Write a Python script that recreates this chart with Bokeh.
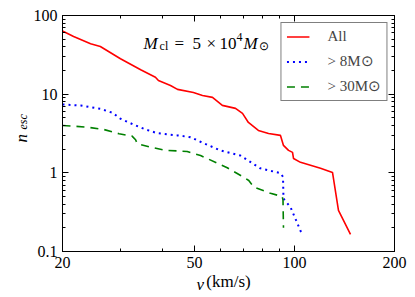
from bokeh.plotting import figure
from bokeh.models import Label, LogAxis, FixedTicker, Legend, LegendItem, CustomJSTickFormatter, Title
from bokeh.embed import file_html
from bokeh.resources import INLINE

# ---- data ----
v_all = [20, 21.6, 24.3, 26.0, 29.9, 34.4, 38.1, 38.9, 42.3, 44.4, 49.6, 52.8, 56.6, 60.6,
         66.4, 69.7, 72.6, 77.8, 83.5, 90.7, 92.6, 95.9, 98.6, 99.3, 104.2, 119.7, 130.1,
         135.6, 147.4]
n_all = [63.5, 54, 43.7, 40.4, 28.2, 20.4, 16.4, 14.9, 12.9, 11.5, 10.5, 9.6, 9.1, 7.2,
         6.6, 5.7, 4.37, 3.46, 3.17, 2.99, 2.23, 1.93, 1.82, 1.52, 1.36, 1.14, 1.01,
         0.333, 0.165]

v_8 = [20, 22.7, 24.3, 26.0, 28.3, 29.9, 33.2, 35.6, 38.6, 44.4, 48.6, 53.2, 59.8, 68.7,
       78.9, 90.7, 92.3, 92.6, 97.2, 105]
n_8 = [7.4, 7.18, 6.84, 6.52, 5.8, 4.87, 4.0, 3.56, 3.19, 2.99, 2.84, 2.38, 1.93, 1.66,
       1.14, 0.99, 0.89, 0.47, 0.367, 0.17]

v_30 = [20, 23.7, 26.6, 29.6, 32.4, 33.2, 33.6, 36.8, 41.0, 47.5, 52.1, 58.5, 62.7, 70.3,
        72.8, 75.4, 84.6, 91.8, 92.3, 92.6]
n_30 = [4.0, 3.81, 3.56, 3.14, 2.93, 2.63, 2.34, 2.12, 1.93, 1.87, 1.66, 1.33, 1.16, 0.88,
        0.80, 0.66, 0.55, 0.50, 0.45, 0.20]

x_ticks = [20, 50, 100, 200]
x_minor = [30, 40, 60, 70, 80, 90]
y_ticks = [0.1, 1, 10, 100]
y_minor = [0.2, 0.3, 0.4, 0.5, 0.6, 0.7, 0.8, 0.9, 2, 3, 4, 5, 6, 7, 8, 9,
           20, 30, 40, 50, 60, 70, 80, 90]

legend_labels = ["All", "> 8M⊙", "> 30M⊙"]

FONT = "Liberation Serif"

p = figure(width=410, height=295, frame_width=332, frame_height=236,
           x_axis_type="log", y_axis_type="log",
           x_range=(20, 200), y_range=(0.1, 100),
           output_backend="svg", toolbar_location=None,
           min_border_left=62, min_border_right=14, min_border_top=15, min_border_bottom=44)
p.xgrid.visible = False
p.ygrid.visible = False
p.outline_line_color = "black"
p.outline_line_width = 1
p.background_fill_color = "white"
p.border_fill_color = "white"

xt = FixedTicker(ticks=x_ticks, minor_ticks=x_minor)
yt = FixedTicker(ticks=y_ticks, minor_ticks=y_minor)
fmt = CustomJSTickFormatter(code="return tick.toString();")
blank = CustomJSTickFormatter(code="return '';")


def style(ax, labels=True):
    ax.axis_line_color = "black"
    ax.axis_line_width = 1
    ax.major_tick_in = 6
    ax.major_tick_out = 0
    ax.minor_tick_in = 3
    ax.minor_tick_out = 0
    ax.major_tick_line_color = "black"
    ax.minor_tick_line_color = "black"
    ax.major_label_text_font = FONT
    ax.major_label_text_font_size = "16px"
    ax.major_label_text_color = "black"
    if not labels:
        ax.major_label_standoff = 0
        ax.major_label_text_font_size = "1px"


p.xaxis.ticker = xt
p.xaxis.formatter = fmt
p.yaxis.ticker = yt
p.yaxis.formatter = fmt
style(p.xaxis[0])
style(p.yaxis[0])
p.xaxis.major_label_standoff = 5
p.yaxis.major_label_standoff = 5

# x axis label: roman part as axis label, italic "v" as a title laid over it
p.xaxis.axis_label = "(km/s)"
p.xaxis.axis_label_text_font = FONT
p.xaxis.axis_label_text_font_size = "17px"
p.xaxis.axis_label_text_font_style = "normal"
p.xaxis.axis_label_text_color = "black"
p.xaxis.axis_label_standoff = 1

top = LogAxis(ticker=FixedTicker(ticks=x_ticks, minor_ticks=x_minor), formatter=blank)
right = LogAxis(ticker=FixedTicker(ticks=y_ticks, minor_ticks=y_minor), formatter=blank)
style(top, False)
style(right, False)
p.add_layout(top, "above")
p.add_layout(right, "right")

p.add_layout(Title(text="v", align="left", offset=134, vertical_align="top", standoff=-37,
                   text_font=FONT, text_font_size="17px", text_font_style="italic",
                   text_color="black"), "below")

# y axis label n_esc
p.add_layout(Title(text="esc", align="left", offset=122, vertical_align="bottom", standoff=2,
                   text_font=FONT, text_font_size="12px", text_font_style="italic",
                   text_color="black"), "left")
p.add_layout(Title(text="n", align="left", offset=109, vertical_align="bottom", standoff=-37,
                   text_font=FONT, text_font_size="17px", text_font_style="italic",
                   text_color="black"), "left")

r1 = p.line(v_all, n_all, line_color="#ff0000", line_width=1.6)
r2 = p.line(v_8, n_8, line_color="#0000ff", line_width=2, line_dash="2 4")
r3 = p.line(v_30, n_30, line_color="#008000", line_width=1.6, line_dash="8 6")

legend = Legend(items=[LegendItem(label=legend_labels[0], renderers=[r1]),
                       LegendItem(label=legend_labels[1], renderers=[r2]),
                       LegendItem(label=legend_labels[2], renderers=[r3])],
                location="top_right", margin=7, padding=5, spacing=7,
                glyph_width=23, glyph_height=15, label_height=15, label_standoff=18,
                label_text_font=FONT, label_text_font_size="15px",
                border_line_color="black", border_line_width=1.2,
                background_fill_alpha=1)
p.add_layout(legend, "center")


def lab(x, y, text, dx=0, dy=0, size="17px", style="normal"):
    p.add_layout(Label(x=x, y=y, text=text, x_offset=dx, y_offset=dy,
                       text_font=FONT, text_font_size=size, text_font_style=style,
                       text_color="black", text_baseline="alphabetic", text_align="left"))


# annotation M_cl = 5 x 10^4 M_sun
ax0, ay0 = 35.1, 44.5
lab(ax0, ay0, "M", 0, 0, "17px", "italic")
lab(ax0, ay0, "cl", 16, -3, "12px")
lab(ax0, ay0, "=", 31, 0)
lab(ax0, ay0, "5", 49, 0)
lab(ax0, ay0, "×", 63, 0)
lab(ax0, ay0, "10", 76, 0)
lab(ax0, ay0, "4", 93, 6, "12px")
lab(ax0, ay0, "M", 100, 0, "17px", "italic")
lab(ax0, ay0, "⊙", 115, -3, "12px")

open("out.html", "w").write(file_html(p, INLINE))
